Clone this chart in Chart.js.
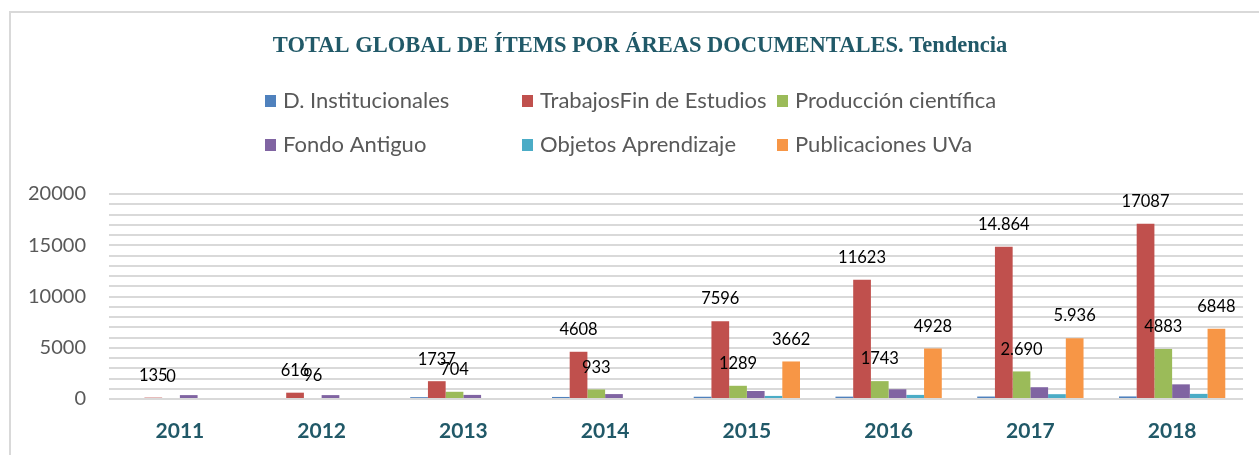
<!DOCTYPE html>
<html>
<head>
<meta charset="utf-8">
<script src="https://cdn.jsdelivr.net/npm/chart.js@4"></script>
<style>
  body { margin: 0; background: #fff; overflow: hidden; }
  #frame { position: absolute; left: 9px; top: 11px; width: 1300px; height: 500px; border: 2px solid #d9d9d9; }
  #wrap { position: absolute; left: 0; top: 0; width: 1259px; height: 455px; }
</style>
</head>
<body>
<div id="frame"></div>
<div id="wrap"><canvas id="chart"></canvas></div>
<script>
// Data
const years = ['2011', '2012', '2013', '2014', '2015', '2016', '2017', '2018'];
const seriesNames = ['D. Institucionales', 'TrabajosFin de Estudios', 'Producción científica',
    'Fondo Antiguo', 'Objetos Aprendizaje', 'Publicaciones UVa'];
const institucionales = [0, 100, 180, 200, 220, 230, 240, 250];
const trabajosFin = [135, 616, 1737, 4608, 7596, 11623, 14864, 17087];
const produccion = [0, 96, 704, 933, 1289, 1743, 2690, 4883];
const fondoAntiguo = [380, 380, 400, 480, 780, 950, 1150, 1430];
const objetos = [0, 0, 0, 100, 300, 400, 470, 500];
const publicaciones = [0, 0, 0, 0, 3662, 4928, 5936, 6848];
// texts of the data labels as they appear in the picture
const trabajosText = ['135', '616', '1737', '4608', '7596', '11623', '14.864', '17087'];
const produccionText = ['0', '96', '704', '933', '1289', '1743', '2.690', '4883'];
const publicacionesText = [null, null, null, null, '3662', '4928', '5.936', '6848'];
const yTicks = [0, 5000, 10000, 15000, 20000];

const colors = ['#4F81BD', '#C0504D', '#9BBB59', '#8064A2', '#4BACC6', '#F79646'];
const teal = '#215968';
const grey = '#595959';

const allValues = [institucionales, trabajosFin, produccion, fondoAntiguo, objetos, publicaciones];
const allTexts = [null, trabajosText, produccionText, null, null, publicacionesText];

// Title, legend and data labels drawn on the canvas
const decorations = {
    id: 'decorations',
    afterDraw(chart) {
        const ctx = chart.ctx;
        ctx.save();

        // title
        ctx.font = 'bold 22.5px "Liberation Serif"';
        ctx.fillStyle = teal;
        ctx.textAlign = 'center';
        ctx.textBaseline = 'middle';
        ctx.fillText('TOTAL GLOBAL DE ÍTEMS POR ÁREAS DOCUMENTALES. Tendencia', 640, 46);

        // legend, 3 columns x 2 rows
        const colX = [265, 522, 777];
        const rowY = [101, 145];
        ctx.font = '22px Lato';
        ctx.textAlign = 'left';
        chart.data.datasets.forEach((ds, i) => {
            const x = colX[i % 3];
            const y = rowY[Math.floor(i / 3)];
            ctx.fillStyle = ds.backgroundColor;
            ctx.fillRect(x, y - 6, 11, 12);
            ctx.fillStyle = grey;
            ctx.fillText(ds.label, x + 18, y);
        });

        // data labels
        ctx.font = '16.5px Lato';
        ctx.fillStyle = '#000';
        ctx.textAlign = 'center';
        chart.data.datasets.forEach((ds, i) => {
            const texts = allTexts[i];
            if (!texts) return;
            chart.getDatasetMeta(i).data.forEach((bar, j) => {
                if (texts[j] == null) return;
                ctx.fillText(texts[j], bar.x, bar.y - 22);
            });
        });

        ctx.restore();
    }
};

const ctx = document.getElementById('chart').getContext('2d');

new Chart(ctx, {
    type: 'bar',
    data: {
        labels: years,
        datasets: seriesNames.map((name, i) => ({
            label: name,
            data: allValues[i],
            backgroundColor: colors[i],
            borderWidth: 0,
            categoryPercentage: 0.75,
            barPercentage: 1.0
        }))
    },
    options: {
        responsive: true,
        maintainAspectRatio: false,
        animation: false,
        layout: {
            padding: { top: 194, right: 16, bottom: 0, left: 0 }
        },
        plugins: {
            legend: { display: false },
            title: { display: false },
            tooltip: { enabled: false }
        },
        scales: {
            x: {
                grid: { display: false, drawTicks: false },
                border: { display: false },
                afterFit(scale) { scale.height = 56; },
                ticks: {
                    padding: 20,
                    color: teal,
                    font: { family: 'Lato', size: 21, weight: 'bold' }
                }
            },
            y: {
                min: 0,
                max: 20000,
                border: { display: false },
                grid: { color: '#d9d9d9', lineWidth: 2, drawTicks: false },
                afterFit(scale) { scale.width = 109; },
                ticks: {
                    stepSize: 1000,
                    autoSkip: false,
                    padding: 23,
                    color: grey,
                    font: { family: 'Lato', size: 20 },
                    callback: v => yTicks.includes(v) ? String(v) : ''
                }
            }
        }
    },
    plugins: [decorations]
});
</script>
</body>
</html>
